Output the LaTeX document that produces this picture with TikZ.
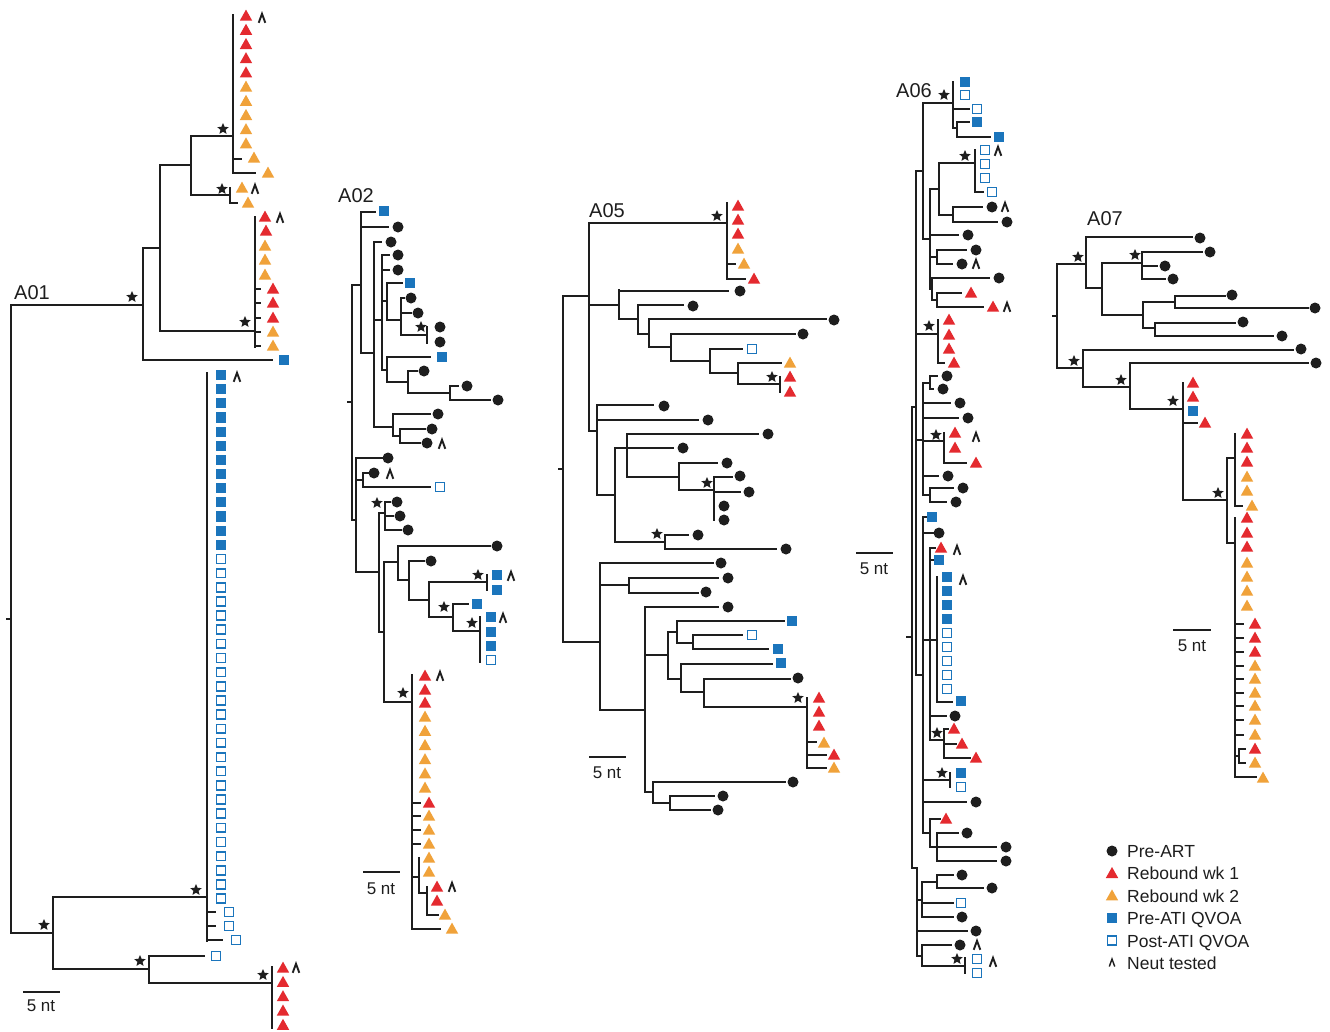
\documentclass[tikz,border=0pt]{standalone}
\usepackage{fontspec}
\setmainfont{Liberation Sans}
\usetikzlibrary{shapes.geometric}
\definecolor{cred}{HTML}{E42A2F}
\definecolor{corg}{HTML}{F0A23A}
\definecolor{cblu}{HTML}{1B75BC}
\definecolor{cdk}{HTML}{1E1E1E}
\tikzset{
  br/.style={draw=cdk,line width=1.75pt,line cap=rect},
  lab/.style={font=\fontsize{20}{22}\selectfont,text=cdk,inner sep=0pt},
  sc/.style={font=\fontsize{17}{19}\selectfont,text=cdk,inner sep=0pt},
  lg/.style={font=\fontsize{17.5}{19}\selectfont,text=cdk,inner sep=0pt},
  stn/.style={star,star points=5,star point ratio=2.2,fill=cdk,inner sep=0pt,minimum size=12pt}
}
\newcommand\VL[3]{\draw[br] (#1,#2)--(#1,#3);}
\newcommand\HL[3]{\draw[br] (#1,#3)--(#2,#3);}
\newcommand\PA[2]{\fill[cdk] (#1,#2) circle (5.5pt);}
\newcommand\RA[2]{\fill[cred] (#1,#2)++(0,-6.4)--++(6.2,11)--++(-12.4,0)--cycle;}
\newcommand\OA[2]{\fill[corg] (#1,#2)++(0,-6.4)--++(6.2,11)--++(-12.4,0)--cycle;}
\newcommand\BS[2]{\fill[cblu] (#1-5.1,#2-5.1) rectangle (#1+5.1,#2+5.1);}
\newcommand\OS[2]{\draw[cblu,fill=white,line width=1.7pt] (#1-4.4,#2-4.4) rectangle (#1+4.4,#2+4.4);}
\newcommand\NT[2]{\draw[cdk,line width=1.9pt,line join=miter] (#1-3.3,#2+4.8)--(#1,#2-4.2)--(#1+3.3,#2+4.8);}
\newcommand\ST[2]{\node[stn] at (#1,#2) {};}
\begin{document}
\begin{tikzpicture}[x=1pt,y=-1pt]
\useasboundingbox (0,0) rectangle (1330,1031);
\fill[white] (0,0) rectangle (1330,1031);

% ================= A01 =================
\node[lab,anchor=base] (labA01) at (32,299) {A01};
\VL{11}{305}{933} \HL{7}{11}{619}
\HL{11}{143}{305} \ST{132}{297}
\VL{143}{248}{360} \HL{143}{160}{248} \HL{143}{272}{360} \BS{284}{360}
\VL{160}{165}{331} \HL{160}{191}{165} \HL{160}{255}{331} \ST{245}{322}
\VL{191}{136}{195} \HL{191}{233}{136} \ST{223}{129} \HL{191}{230}{195} \ST{222}{189}
\VL{233}{15}{173}
\foreach \i in {0,...,4}{\RA{246}{16+14.2*\i}}
\foreach \i in {5,...,9}{\OA{246}{16+14.2*\i}}
\NT{262}{18}
\HL{233}{241}{159} \OA{254}{158}
\HL{233}{255}{173} \OA{268}{173}
\VL{230}{188}{203} \HL{230}{237}{203} \OA{242}{188} \NT{255}{189} \OA{248}{203}
\VL{255}{217}{347}
\RA{265}{217} \NT{280}{218} \RA{266}{231} \OA{265}{246} \OA{265}{260} \OA{265}{275}
\foreach \y in {289,303,318}{\HL{255}{260}{\y} \RA{273}{\y}}
\foreach \y in {332,346}{\HL{255}{260}{\y} \OA{273}{\y}}
\HL{11}{53}{933} \ST{44}{925}
\VL{53}{897}{969} \HL{53}{207}{897} \ST{196}{890} \HL{53}{149}{969} \ST{140}{961}
\VL{207}{373}{941}
\foreach \i in {0,...,12}{\BS{221}{375+14.15*\i}}
\foreach \i in {13,...,37}{\OS{221}{375+14.15*\i}}
\NT{237}{377}
\HL{207}{215}{912} \OS{229}{912}
\HL{207}{215}{926} \OS{229}{926}
\HL{207}{222}{940} \OS{236}{940}
\VL{149}{956}{983} \HL{149}{204}{956} \OS{216}{956} \HL{149}{272}{983} \ST{263}{975}
\VL{272}{967}{1028}
\foreach \i in {0,...,4}{\RA{283}{968+14.3*\i}}
\NT{296}{968}
\draw[br,line cap=butt] (23,992)--(60,992);
\node[sc,anchor=base] (scA01) at (41,1011) {5 nt};

% ================= A02 =================
\node[lab,anchor=base] (labA02) at (356,202) {A02};
\VL{352}{285}{520} \HL{348}{352}{402}
\HL{352}{361}{285} \VL{361}{212}{353}
\HL{361}{375}{212} \BS{384}{211}
\HL{361}{388}{227} \PA{398}{227}
\HL{361}{374}{353} \VL{374}{242}{427}
\HL{374}{381}{242} \PA{391}{242}
\HL{374}{382}{320} \VL{382}{255}{370}
\HL{382}{389}{255} \PA{398}{255}
\HL{382}{389}{270} \PA{398}{270}
\HL{382}{387}{301} \VL{387}{283}{320}
\HL{387}{402}{283} \BS{410}{283}
\HL{387}{401}{320} \VL{401}{298}{335}
\HL{401}{404}{298} \PA{411}{298}
\HL{401}{411}{313} \PA{418}{313}
\HL{401}{427}{335} \VL{427}{327}{343} \ST{421}{327} \PA{440}{327} \PA{440}{342}
\HL{382}{387}{370} \VL{387}{357}{382}
\HL{387}{430}{357} \BS{442}{357}
\HL{387}{408}{382} \VL{408}{371}{393}
\HL{408}{417}{371} \PA{424}{371}
\HL{408}{450}{393} \VL{450}{386}{400}
\HL{450}{458}{386} \PA{467}{386}
\HL{450}{490}{400} \PA{498}{400}
\HL{374}{393}{427} \VL{393}{414}{436}
\HL{393}{430}{414} \PA{438}{414}
\HL{393}{400}{436} \VL{400}{429}{443}
\HL{400}{425}{429} \PA{432}{429}
\HL{400}{420}{443} \PA{427}{443} \NT{442}{444}
\HL{352}{356}{520} \VL{356}{458}{572}
\HL{356}{382}{458} \PA{388}{458}
\HL{356}{363}{480} \VL{363}{473}{487}
\HL{363}{368}{473} \PA{374}{473} \NT{390}{474}
\HL{363}{430}{487} \OS{440}{487}
\HL{356}{379}{572} \VL{379}{513}{632}
\HL{379}{385}{513} \VL{385}{502}{530} \ST{377}{503}
\HL{385}{390}{502} \PA{397}{502}
\HL{385}{393}{516} \PA{400}{516}
\HL{385}{401}{530} \PA{408}{530}
\HL{379}{384}{632} \VL{384}{562}{702}
\HL{384}{398}{562} \VL{398}{546}{580}
\HL{398}{490}{546} \PA{497}{546}
\HL{398}{409}{580} \VL{409}{561}{600}
\HL{409}{424}{561} \PA{431}{561}
\HL{409}{429}{600} \VL{429}{582}{617}
\HL{429}{487}{582} \VL{487}{575}{590} \ST{478}{575} \BS{497}{575} \NT{511}{576} \BS{497}{590}
\HL{429}{453}{617} \VL{453}{604}{631} \ST{444}{607}
\HL{453}{468}{604} \BS{477}{604}
\HL{453}{480}{631} \VL{480}{617}{662} \ST{472}{623}
\BS{491}{617} \NT{503}{618} \BS{491}{632} \BS{491}{646} \OS{491}{660}
\HL{384}{412}{702} \ST{403}{693}
\VL{412}{675}{929}
\RA{425}{676} \NT{440}{676} \RA{425}{690} \RA{425}{703}
\foreach \i in {0,...,5}{\OA{425}{717+14.2*\i}}
\HL{412}{420}{803} \RA{429}{803}
\foreach \y in {816,830,844}{\HL{412}{420}{\y} \OA{429}{\y}}
\HL{412}{419}{877} \VL{419}{858}{893} \OA{429}{858} \OA{429}{872}
\HL{419}{427}{893} \VL{427}{887}{915}
\RA{437}{887} \NT{452}{887} \RA{437}{901}
\HL{427}{438}{915} \OA{445}{915}
\HL{412}{440}{929} \OA{452}{929}
\draw[br,line cap=butt] (363,872)--(400,872);
\node[sc,anchor=base] (scA02) at (381,894) {5 nt};

% ================= A05 =================
\node[lab,anchor=base] (labA05) at (607,217) {A05};
\VL{563}{296}{642} \HL{559}{563}{469}
\HL{563}{589}{296} \VL{589}{223}{431}
\HL{589}{727}{223} \ST{717}{216} \VL{727}{203}{279}
\RA{738}{206} \RA{738}{220} \RA{738}{234} \OA{738}{249}
\HL{727}{735}{264} \OA{744}{264}
\HL{727}{745}{279} \RA{754}{279}
\HL{589}{619}{305} \VL{619}{290}{319}
\HL{619}{728}{291} \PA{740}{291}
\HL{619}{638}{319} \VL{638}{305}{334}
\HL{638}{683}{305} \PA{693}{306}
\HL{638}{649}{334} \VL{649}{319}{347}
\HL{649}{826}{319} \PA{834}{320}
\HL{649}{671}{347} \VL{671}{334}{361}
\HL{671}{795}{334} \PA{803}{334}
\HL{671}{710}{361} \VL{710}{349}{373}
\HL{710}{742}{349} \OS{752}{349}
\HL{710}{738}{373} \VL{738}{363}{384}
\HL{738}{781}{363} \OA{790}{363}
\HL{738}{780}{384} \VL{780}{377}{392} \ST{772}{377} \RA{790}{377} \RA{790}{392}
\HL{589}{597}{431} \VL{597}{405}{495}
\HL{597}{653}{405} \PA{664}{406}
\HL{597}{698}{420} \PA{708}{420}
\HL{597}{615}{495} \VL{615}{448}{542}
\HL{615}{673}{448} \PA{683}{448}
\VL{627}{434}{477} \HL{627}{758}{434} \PA{768}{434}
\HL{627}{679}{477} \VL{679}{463}{490}
\HL{679}{717}{463} \PA{727}{463}
\HL{679}{714}{490} \VL{714}{477}{520} \ST{707}{483}
\HL{714}{732}{477} \PA{740}{476}
\HL{714}{740}{492} \PA{749}{492}
\PA{724}{506} \PA{724}{520}
\HL{615}{665}{542} \VL{665}{535}{549} \ST{657}{534}
\HL{665}{688}{535} \PA{698}{535}
\HL{665}{776}{549} \PA{786}{549}
\HL{563}{600}{642} \VL{600}{563}{710}
\HL{600}{713}{563} \PA{721}{563}
\HL{600}{629}{585} \VL{629}{578}{593}
\HL{629}{718}{578} \PA{728}{578}
\HL{629}{698}{593} \PA{706}{592}
\HL{600}{645}{710} \VL{645}{607}{792}
\HL{645}{718}{607} \PA{728}{607}
\HL{645}{668}{655} \VL{668}{632}{679}
\HL{668}{677}{632} \VL{677}{621}{643}
\HL{677}{784}{621} \BS{792}{621}
\HL{677}{693}{643} \VL{693}{635}{649}
\HL{693}{742}{635} \OS{752}{635}
\HL{693}{768}{649} \BS{778}{649}
\HL{668}{681}{679} \VL{681}{664}{692}
\HL{681}{772}{664} \BS{781}{663}
\HL{681}{704}{692} \VL{704}{679}{707}
\HL{704}{790}{679} \PA{798}{678}
\HL{704}{807}{707} \VL{807}{698}{768} \ST{798}{698}
\RA{819}{698} \RA{819}{712} \RA{819}{726}
\HL{807}{816}{742} \OA{824}{743}
\HL{807}{826}{755} \RA{834}{755}
\HL{807}{826}{768} \OA{834}{768}
\HL{645}{653}{792} \VL{653}{782}{803}
\HL{653}{785}{782} \PA{793}{782}
\HL{653}{670}{803} \VL{670}{796}{810}
\HL{670}{714}{796} \PA{723}{796}
\HL{670}{710}{810} \PA{718}{810}
\draw[br,line cap=butt] (589,757)--(626,757);
\node[sc,anchor=base] (scA05) at (607,778) {5 nt};

% ================= A06 =================
\node[lab,anchor=base] (labA06) at (914,97) {A06};
\VL{912}{407}{868} \HL{907}{912}{637}
\HL{912}{916}{407} \VL{916}{171}{675}
\HL{916}{923}{171} \VL{923}{103}{239}
\HL{923}{953}{103} \ST{944}{95} \VL{953}{82}{128}
\BS{965}{82} \OS{965}{95}
\HL{953}{969}{109} \OS{977}{109}
\HL{953}{957}{128} \VL{957}{122}{137}
\HL{957}{969}{122} \BS{977}{122}
\HL{957}{990}{137} \BS{999}{137}
\HL{923}{930}{239} \VL{930}{189}{289}
\HL{930}{939}{189} \VL{939}{163}{215}
\HL{939}{975}{163} \ST{965}{156} \VL{975}{150}{192}
\OS{985}{150} \NT{998}{151} \OS{985}{164} \OS{985}{178}
\HL{975}{983}{192} \OS{992}{192}
\HL{939}{953}{215} \VL{953}{207}{222}
\HL{953}{982}{207} \PA{992}{207} \NT{1005}{207}
\HL{953}{997}{222} \PA{1007}{222}
\HL{930}{958}{235} \PA{968}{235}
\HL{930}{937}{257} \VL{937}{250}{264}
\HL{937}{966}{250} \PA{976}{250}
\HL{937}{952}{264} \PA{962}{264} \NT{976}{264}
\HL{930}{932}{289} \VL{932}{278}{300}
\HL{932}{989}{278} \PA{999}{278}
\HL{932}{937}{300} \VL{937}{293}{307}
\HL{937}{961}{293} \RA{971}{293}
\HL{937}{983}{307} \RA{993}{307} \NT{1007}{307}
\HL{916}{938}{334} \ST{929}{326} \VL{938}{320}{363}
\RA{949}{320} \RA{949}{335} \RA{949}{349}
\HL{938}{944}{363} \RA{954}{363}
\HL{916}{923}{440} \VL{923}{383}{495}
\HL{923}{930}{383} \VL{930}{376}{389}
\HL{930}{937}{376} \PA{947}{376}
\HL{930}{933}{389} \PA{943}{389}
\HL{923}{950}{403} \PA{960}{403}
\HL{923}{958}{418} \PA{968}{418}
\HL{923}{944}{441} \ST{936}{435} \VL{944}{433}{463}
\RA{955}{433} \NT{976}{437} \RA{955}{448}
\HL{944}{966}{463} \RA{976}{463}
\HL{923}{938}{476} \PA{948}{476}
\HL{923}{930}{495} \VL{930}{488}{502}
\HL{930}{953}{488} \PA{963}{488}
\HL{930}{946}{502} \PA{956}{502}
\HL{916}{923}{675} \VL{923}{517}{833}
\HL{923}{927}{517} \BS{932}{517}
\HL{923}{934}{533} \PA{939}{533}
\HL{923}{930}{640} \VL{930}{548}{740}
\HL{930}{935}{548} \RA{941}{548} \NT{957}{550}
\HL{930}{934}{560} \BS{939}{560}
\HL{930}{937}{640} \VL{937}{577}{702}
\foreach \i in {0,...,3}{\BS{947}{577+14*\i}}
\foreach \i in {4,...,8}{\OS{947}{577+14*\i}}
\NT{963}{580}
\HL{937}{952}{702} \BS{961}{701}
\HL{930}{946}{716} \PA{955}{716}
\HL{930}{944}{740} \ST{937}{733} \VL{944}{729}{758}
\HL{944}{948}{729} \RA{954}{729}
\HL{944}{956}{744} \RA{962}{744}
\HL{944}{970}{758} \RA{976}{758}
\HL{923}{950}{780} \ST{942}{773} \VL{950}{773}{787}
\BS{961}{773} \OS{961}{787}
\HL{923}{966}{802} \PA{976}{802}
\HL{923}{930}{833} \VL{930}{819}{847}
\HL{930}{940}{819} \RA{946}{819}
\HL{930}{937}{847} \VL{937}{833}{861}
\HL{937}{958}{833} \PA{967}{833}
\HL{937}{996}{847} \PA{1006}{847}
\HL{937}{996}{861} \PA{1006}{861}
\HL{912}{917}{868} \VL{917}{868}{956}
\HL{917}{922}{900} \VL{922}{882}{917}
\HL{922}{937}{882} \VL{937}{875}{888}
\HL{937}{953}{875} \PA{962}{875}
\HL{937}{983}{888} \PA{992}{888}
\HL{922}{953}{903} \OS{961}{903}
\HL{922}{953}{917} \PA{962}{917}
\HL{917}{967}{931} \PA{976}{931}
\HL{917}{922}{956} \VL{922}{945}{966}
\HL{922}{951}{945} \PA{960}{945} \NT{977}{945}
\HL{922}{965}{966} \ST{957}{959} \VL{965}{958}{973}
\OS{977}{959} \NT{993}{962} \OS{977}{973}
\draw[br,line cap=butt] (856,553)--(893,553);
\node[sc,anchor=base] (scA06) at (874,574) {5 nt};

% ================= A07 =================
\node[lab,anchor=base] (labA07) at (1105,225) {A07};
\VL{1057}{264}{368} \HL{1053}{1057}{316}
\HL{1057}{1086}{264} \ST{1078}{257} \VL{1086}{237}{288}
\HL{1086}{1192}{237} \PA{1200}{238}
\HL{1086}{1102}{288} \VL{1102}{263}{315}
\HL{1102}{1142}{263} \ST{1135}{255} \VL{1142}{252}{279}
\HL{1142}{1202}{252} \PA{1210}{252}
\HL{1142}{1157}{266} \PA{1165}{266}
\HL{1142}{1165}{279} \PA{1173}{279}
\HL{1102}{1143}{315} \VL{1143}{302}{328}
\HL{1143}{1175}{302} \VL{1175}{296}{308}
\HL{1175}{1225}{296} \PA{1232}{295}
\HL{1175}{1308}{308} \PA{1315}{308}
\HL{1143}{1155}{328} \VL{1155}{323}{336}
\HL{1155}{1235}{323} \PA{1243}{322}
\HL{1155}{1273}{336} \PA{1282}{336}
\HL{1057}{1083}{368} \ST{1074}{361} \VL{1083}{350}{387}
\HL{1083}{1293}{350} \PA{1301}{349}
\HL{1083}{1130}{387} \ST{1121}{380} \VL{1130}{363}{409}
\HL{1130}{1308}{363} \PA{1316}{363}
\HL{1130}{1183}{409} \ST{1173}{401} \VL{1183}{383}{500}
\RA{1193}{383} \RA{1193}{397} \BS{1193}{411}
\HL{1183}{1197}{423} \RA{1205}{423}
\HL{1183}{1227}{500} \ST{1218}{493} \VL{1227}{458}{543}
\HL{1227}{1235}{458} \VL{1235}{434}{506}
\RA{1247}{434} \RA{1247}{448} \RA{1247}{462} \OA{1247}{477} \OA{1247}{491}
\HL{1235}{1242}{506} \OA{1252}{506}
\HL{1227}{1235}{543} \VL{1235}{518}{777}
\RA{1247}{518} \RA{1247}{533} \RA{1247}{547}
\foreach \y in {563,577,591,606}{\OA{1247}{\y}}
\foreach \y in {624,638,652}{\HL{1235}{1243}{\y} \RA{1255}{\y}}
\foreach \y in {666,679,693,706,720,735}{\HL{1235}{1243}{\y} \OA{1255}{\y}}
\HL{1235}{1239}{756} \VL{1239}{749}{763}
\HL{1239}{1245}{749} \RA{1255}{749}
\HL{1239}{1245}{763} \OA{1255}{763}
\HL{1235}{1256}{777} \OA{1263}{778}
\draw[br,line cap=butt] (1173,630)--(1211,630);
\node[sc,anchor=base] (scA07) at (1192,651) {5 nt};

% ================= Legend =================
\PA{1112}{851} \node[lg,anchor=base west] (lg1) at (1127,857.5) {Pre-ART};
\RA{1112}{873.4} \node[lg,anchor=base west] (lg2) at (1127,879.9) {Rebound wk 1};
\OA{1112}{895.8} \node[lg,anchor=base west] (lg3) at (1127,902.3) {Rebound wk 2};
\BS{1112}{918.2} \node[lg,anchor=base west] (lg4) at (1127,924.7) {Pre-ATI QVOA};
\OS{1112}{940.6} \node[lg,anchor=base west] (lg5) at (1127,947.1) {Post-ATI QVOA};
\draw[cdk,line width=1.4pt] (1109.3,966.5)--(1112,959)--(1114.7,966.5);
\node[lg,anchor=base west] (lg6) at (1127,969.5) {Neut tested};
\end{tikzpicture}
\end{document}
